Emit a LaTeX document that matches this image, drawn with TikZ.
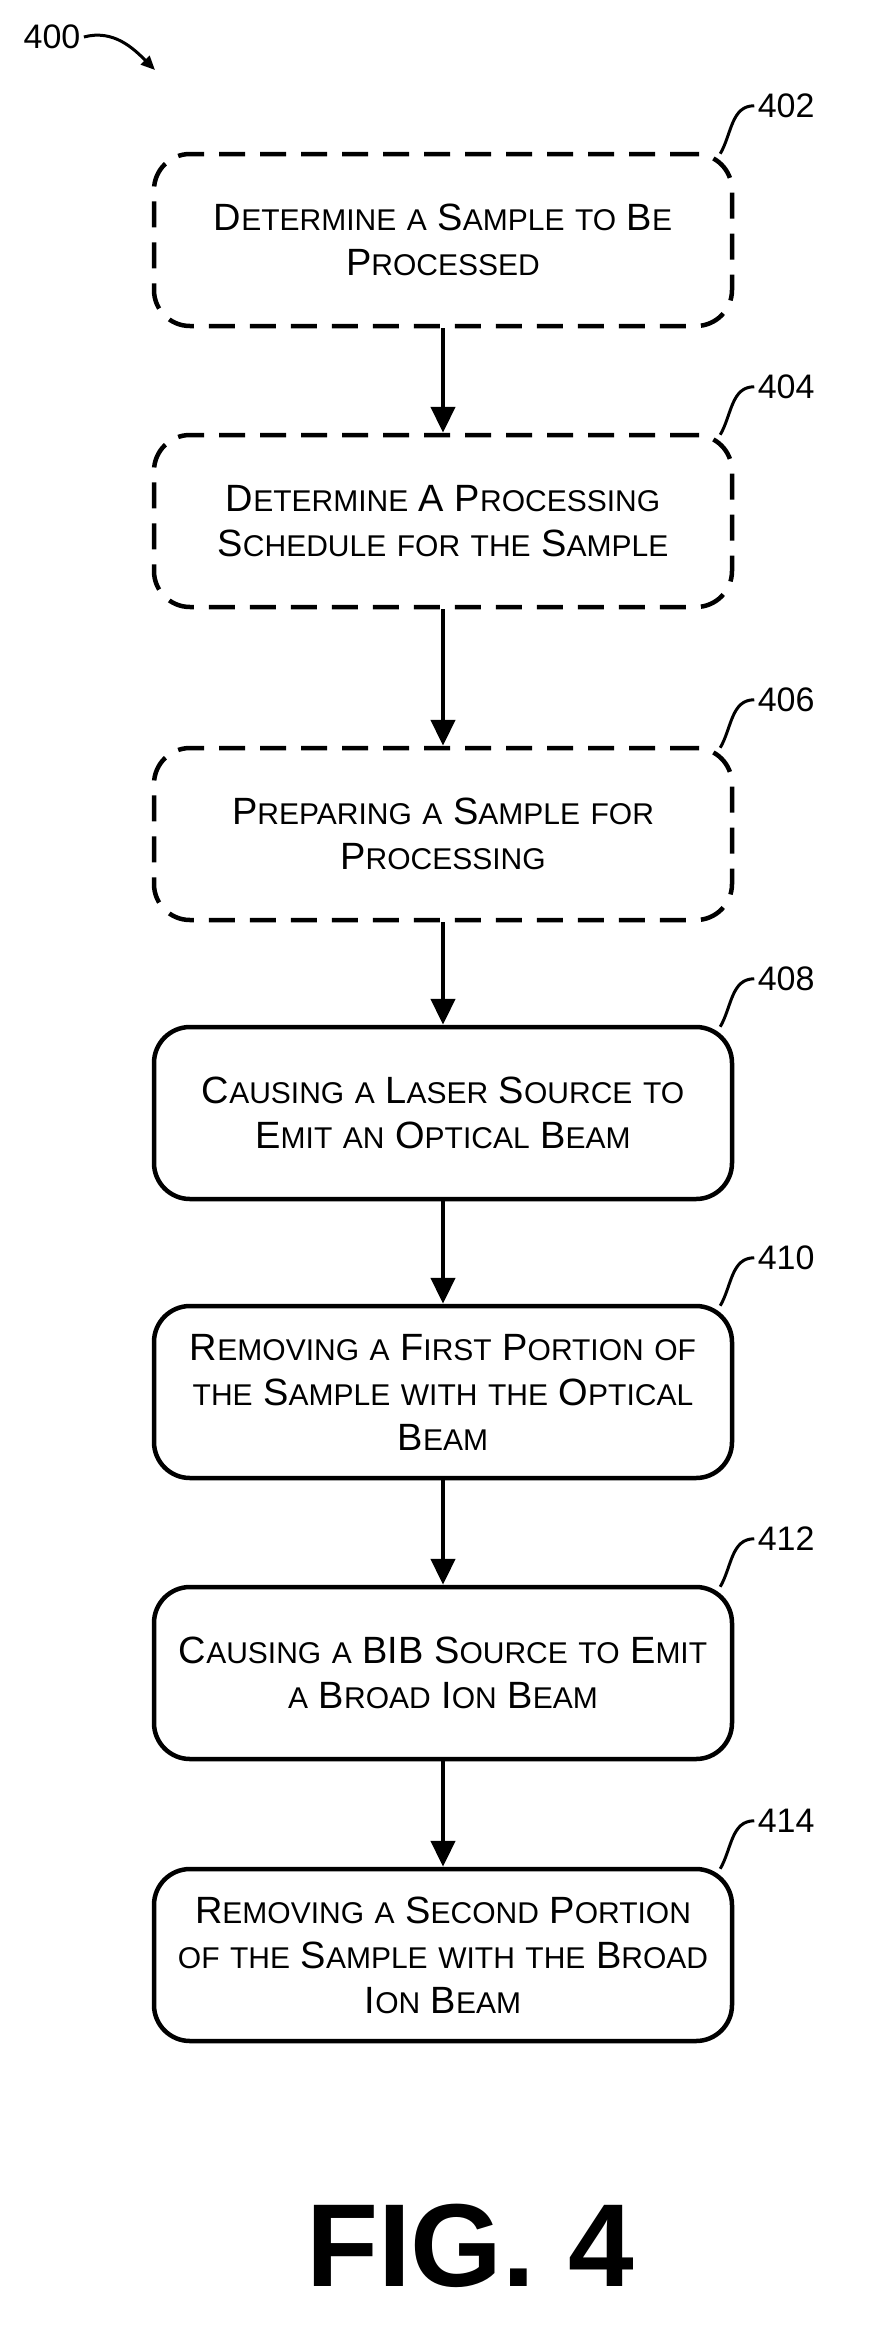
\documentclass[tikz,border=0pt]{standalone}
\usepackage{fontspec}
\setmainfont{Liberation Sans}
\usetikzlibrary{arrows.meta}
\newcommand\sm[1]{{\fontsize{30}{45}\selectfont #1}}
\begin{document}
\begin{tikzpicture}[x=1pt,y=-1pt,
  box/.style={draw,line width=4.5pt,rounded corners=36pt,minimum width=578pt,minimum height=172pt,align=center,font=\fontsize{38}{45}\selectfont,inner sep=0pt},
  dbox/.style={box,dash pattern=on 26pt off 15pt},
  arr/.style={line width=4.5pt,-{Triangle[length=26pt,width=24pt]}},
  lab/.style={font=\fontsize{34}{34}\selectfont,anchor=west},
  lead/.style={line width=3pt}]
\useasboundingbox (0,0) rectangle (881,2337);
\fill[white] (0,0) rectangle (881,2337);
\node[dbox] (b402) at (443,240) {D\sm{ETERMINE} \sm{A} S\sm{AMPLE} \sm{TO} B\sm{E}\\P\sm{ROCESSED}};
\node[dbox] (b404) at (443,521) {D\sm{ETERMINE} A P\sm{ROCESSING}\\S\sm{CHEDULE} \sm{FOR} \sm{THE} S\sm{AMPLE}};
\node[dbox] (b406) at (443,834) {P\sm{REPARING} \sm{A} S\sm{AMPLE} \sm{FOR}\\P\sm{ROCESSING}};
\node[box] (b408) at (443,1113) {C\sm{AUSING} \sm{A} L\sm{ASER} S\sm{OURCE} \sm{TO}\\E\sm{MIT} \sm{AN} O\sm{PTICAL} B\sm{EAM}};
\node[box] (b410) at (443,1392) {R\sm{EMOVING} \sm{A} F\sm{IRST} P\sm{ORTION} \sm{OF}\\\sm{THE} S\sm{AMPLE} \sm{WITH} \sm{THE} O\sm{PTICAL}\\B\sm{EAM}};
\node[box] (b412) at (443,1673) {C\sm{AUSING} \sm{A} BIB S\sm{OURCE} \sm{TO} E\sm{MIT}\\\sm{A} B\sm{ROAD} I\sm{ON} B\sm{EAM}};
\node[box] (b414) at (443,1955) {R\sm{EMOVING} \sm{A} S\sm{ECOND} P\sm{ORTION}\\\sm{OF} \sm{THE} S\sm{AMPLE} \sm{WITH} \sm{THE} B\sm{ROAD}\\I\sm{ON} B\sm{EAM}};
\foreach \a/\b in {b402/b404,b404/b406,b406/b408,b408/b410,b410/b412,b412/b414}
  \draw[arr] (\a.south) -- (\b.north);
\foreach \b/\t in {b402/402,b404/404,b406/406,b408/408,b410/410,b412/412,b414/414}{
  \node[lab] (l\t) at ([xshift=20pt,yshift=46pt]\b.north east) {\t};
  \draw[lead] ([xshift=-14pt,yshift=-2pt]\b.north east) to[out=60,in=180] (l\t.west);
}
\node[font=\fontsize{34}{34}\selectfont] (l400) at (52,37) {400};
\coordinate (e400) at (155,70);
\draw[lead,-{Triangle[length=14pt,width=12pt]}] (l400.east) to[out=15,in=135] (e400);
\node[font=\bfseries\fontsize{118}{118}\selectfont] (fig) at (470,2246) {FIG. 4};
\end{tikzpicture}
\end{document}
